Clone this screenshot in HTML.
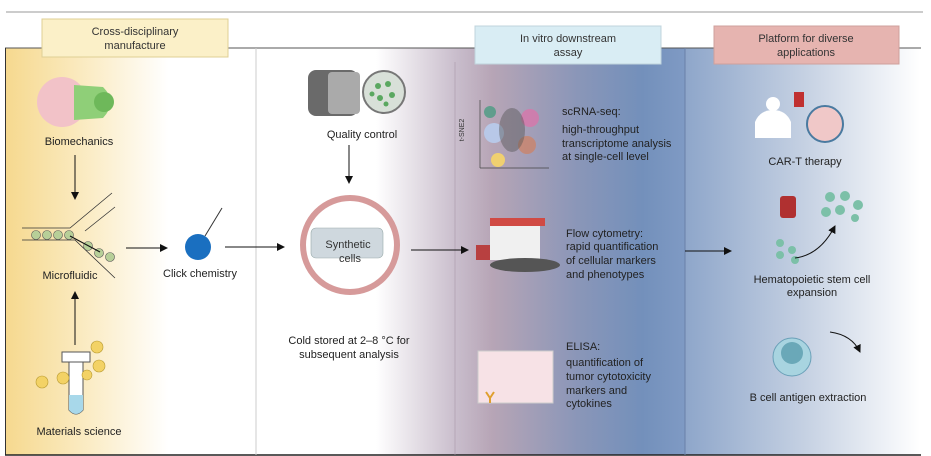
<!DOCTYPE html>
<html><head><meta charset="utf-8"><style>
html,body{margin:0;padding:0;background:#fff;}
svg{display:block;font-family:"Liberation Sans",sans-serif;}
</style></head><body>
<svg width="931" height="456" viewBox="0 0 931 456" xmlns="http://www.w3.org/2000/svg">
<defs>
<linearGradient id="g1" x1="0" x2="1" y1="0" y2="0">
<stop offset="0" stop-color="#f6d98f"/><stop offset="0.35" stop-color="#fbedc8"/><stop offset="0.65" stop-color="#fff"/><stop offset="1" stop-color="#fff"/></linearGradient>
<linearGradient id="g2" x1="0" x2="1" y1="0" y2="0">
<stop offset="0" stop-color="#fff"/><stop offset="0.28" stop-color="#fff"/><stop offset="0.47" stop-color="#c8bccb"/><stop offset="0.55" stop-color="#b7a5b6"/><stop offset="0.75" stop-color="#8a96b8"/><stop offset="0.9" stop-color="#7390bb"/><stop offset="1" stop-color="#7f9ac4"/></linearGradient>
<linearGradient id="g3" x1="0" x2="1" y1="0" y2="0">
<stop offset="0" stop-color="#8ea6ca"/><stop offset="0.5" stop-color="#c4d0e2"/><stop offset="1" stop-color="#fff"/></linearGradient>
<marker id="ar" markerWidth="8" markerHeight="8" refX="7" refY="4" orient="auto" markerUnits="userSpaceOnUse"><path d="M0,0 L8,4 L0,8 z" fill="#111"/></marker>
</defs>
<line x1="6" y1="12" x2="923" y2="12" stroke="#bbb" stroke-width="1.5"/>
<rect x="6" y="48" width="250" height="407" fill="url(#g1)"/>
<rect x="256" y="48" width="429" height="407" fill="url(#g2)"/>
<rect x="685" y="48" width="235" height="407" fill="url(#g3)"/>
<line x1="5" y1="48" x2="921" y2="48" stroke="#555" stroke-width="1"/>
<line x1="5.5" y1="48" x2="5.5" y2="455" stroke="#333" stroke-width="1"/>
<line x1="5" y1="455" x2="921" y2="455" stroke="#222" stroke-width="1.5"/>
<line x1="256" y1="48" x2="256" y2="455" stroke="#ccc" stroke-width="1"/>
<line x1="685" y1="48" x2="685" y2="455" stroke="#6a80a8" stroke-width="1"/>
<line x1="455" y1="62" x2="455" y2="455" stroke="#a898a8" stroke-width="0.6"/>
<!-- headers -->
<rect x="42" y="19" width="186" height="38" fill="#fbf0c8" stroke="#dfcf95"/>
<text x="135" y="35" font-size="11" text-anchor="middle" fill="#333">Cross-disciplinary</text>
<text x="135" y="49" font-size="11" text-anchor="middle" fill="#333">manufacture</text>
<rect x="475" y="26" width="186" height="38" fill="#d9edf4" stroke="#c0d4dc"/>
<text x="568" y="42" font-size="11" text-anchor="middle" fill="#333">In vitro downstream</text>
<text x="568" y="56" font-size="11" text-anchor="middle" fill="#333">assay</text>
<rect x="714" y="26" width="185" height="38" fill="#e6b4b0" stroke="#cfa09c"/>
<text x="806" y="42" font-size="11" text-anchor="middle" fill="#333">Platform for diverse</text>
<text x="806" y="56" font-size="11" text-anchor="middle" fill="#333">applications</text>
<!-- biomechanics -->
<circle cx="62" cy="102" r="25" fill="#f2c2c8"/>
<path d="M74,85 L103,87 Q118,102 103,118 L74,120 Z" fill="#8fcf78"/>
<circle cx="104" cy="102" r="10" fill="#6eb85a"/>
<text x="79" y="145" font-size="11" text-anchor="middle" fill="#222">Biomechanics</text>
<line x1="75" y1="155" x2="75" y2="199" stroke="#111" marker-end="url(#ar)"/>
<!-- microfluidic -->
<g stroke="#333" fill="none" stroke-width="0.8"><path d="M22,228 L70,228 L112,193"/><path d="M22,240 L75,240 L115,278"/><path d="M85,231 L115,207"/></g>
<g fill="#b7cf98" stroke="#555" stroke-width="0.6"><circle cx="36" cy="235" r="4.5"/><circle cx="47" cy="235" r="4.5"/><circle cx="58" cy="235" r="4.5"/><circle cx="69" cy="235" r="4.5"/><circle cx="88" cy="246" r="4.5"/><circle cx="99" cy="253" r="4.5"/><circle cx="110" cy="257" r="4.5"/></g>
<line x1="70" y1="236" x2="100" y2="252" stroke="#111"/>
<text x="70" y="279" font-size="11" text-anchor="middle" fill="#222">Microfluidic</text>
<line x1="75" y1="345" x2="75" y2="292" stroke="#111" marker-end="url(#ar)"/>
<!-- materials -->
<rect x="62" y="352" width="28" height="10" fill="#fff" stroke="#555"/>
<path d="M69,362 L69,410 Q76,418 83,410 L83,362 Z" fill="#fff" stroke="#555"/>
<path d="M69,395 L83,395 L83,410 Q76,418 69,410 Z" fill="#a8d8ea"/>
<g fill="#f3d265" stroke="#b89a30" stroke-width="0.6"><circle cx="97" cy="347" r="6"/><circle cx="99" cy="366" r="6"/><circle cx="63" cy="378" r="6"/><circle cx="42" cy="382" r="6"/><circle cx="87" cy="375" r="5"/></g>
<text x="79" y="435" font-size="11" text-anchor="middle" fill="#222">Materials science</text>
<!-- click chemistry -->
<line x1="126" y1="248" x2="167" y2="248" stroke="#111" marker-end="url(#ar)"/>
<circle cx="198" cy="247" r="13" fill="#1a6fc0"/>
<line x1="205" y1="236" x2="222" y2="208" stroke="#333"/>
<text x="200" y="277" font-size="11" text-anchor="middle" fill="#222">Click chemistry</text>
<line x1="225" y1="247" x2="284" y2="247" stroke="#111" marker-end="url(#ar)"/>
<!-- quality control -->
<rect x="308" y="70" width="50" height="46" rx="8" fill="#6a6a6a"/>
<rect x="328" y="72" width="32" height="42" rx="4" fill="#aaa"/>
<circle cx="384" cy="92" r="21" fill="#d8e0d8" stroke="#777" stroke-width="2"/>
<g fill="#5aa860"><circle cx="378" cy="86" r="3"/><circle cx="388" cy="84" r="3"/><circle cx="392" cy="95" r="3"/><circle cx="380" cy="98" r="3"/><circle cx="386" cy="104" r="2.5"/><circle cx="372" cy="94" r="2.5"/></g>
<text x="362" y="138" font-size="11" text-anchor="middle" fill="#222">Quality control</text>
<line x1="349" y1="145" x2="349" y2="183" stroke="#111" marker-end="url(#ar)"/>
<!-- synthetic cells -->
<circle cx="350" cy="245" r="47" fill="#fff" stroke="#d69a9a" stroke-width="6"/>
<rect x="311" y="228" width="72" height="30" rx="5" fill="#cfd8de" stroke="#9aa" stroke-width="0.6"/>
<text x="348" y="248" font-size="11" text-anchor="middle" fill="#333">Synthetic</text>
<text x="350" y="262" font-size="11" text-anchor="middle" fill="#333">cells</text>
<text x="349" y="344" font-size="11" text-anchor="middle" fill="#222">Cold stored at 2–8 °C for</text>
<text x="349" y="358" font-size="11" text-anchor="middle" fill="#222">subsequent analysis</text>
<line x1="411" y1="250" x2="468" y2="250" stroke="#111" marker-end="url(#ar)"/>
<!-- scRNA plot -->
<line x1="480" y1="100" x2="480" y2="168" stroke="#444" stroke-width="0.7"/>
<line x1="480" y1="168" x2="549" y2="168" stroke="#444" stroke-width="0.7"/>
<text x="464" y="130" font-size="7" fill="#333" transform="rotate(-90 464 130)" text-anchor="middle">t-SNE2</text>
<circle cx="494" cy="133" r="10" fill="#b8c8e8"/><circle cx="498" cy="160" r="7" fill="#f0d070"/>
<circle cx="530" cy="118" r="9" fill="#e070a8" opacity="0.7"/><circle cx="527" cy="145" r="9" fill="#d08060" opacity="0.7"/>
<ellipse cx="512" cy="130" rx="13" ry="22" fill="#555" opacity="0.45"/><circle cx="490" cy="112" r="6" fill="#3a9a7a" opacity="0.7"/>
<text x="562" y="115" font-size="11" fill="#222">scRNA-seq:</text>
<text x="562" y="133" font-size="11" fill="#222">high-throughput</text>
<text x="562" y="147" font-size="11" fill="#222">transcriptome analysis</text>
<text x="562" y="160" font-size="11" fill="#222">at single-cell level</text>
<!-- flow -->
<rect x="490" y="222" width="50" height="38" fill="#f0f0f0"/>
<rect x="490" y="218" width="55" height="8" fill="#d04a44"/>
<rect x="476" y="245" width="14" height="15" fill="#b84040"/>
<ellipse cx="525" cy="265" rx="35" ry="7" fill="#555"/>
<text x="566" y="237" font-size="11" fill="#222">Flow cytometry:</text>
<text x="566" y="250" font-size="11" fill="#222">rapid quantification</text>
<text x="566" y="264" font-size="11" fill="#222">of cellular markers</text>
<text x="566" y="278" font-size="11" fill="#222">and phenotypes</text>
<!-- elisa -->
<rect x="478" y="351" width="75" height="52" fill="#f7e2e6" stroke="#ccc"/>
<path d="M486,392 L490,398 L494,392 M490,398 L490,403" stroke="#e0a030" stroke-width="2" fill="none"/>
<text x="566" y="350" font-size="11" fill="#222">ELISA:</text>
<text x="566" y="366" font-size="11" fill="#222">quantification of</text>
<text x="566" y="380" font-size="11" fill="#222">tumor cytotoxicity</text>
<text x="566" y="394" font-size="11" fill="#222">markers and</text>
<text x="566" y="407" font-size="11" fill="#222">cytokines</text>
<line x1="685" y1="251" x2="731" y2="251" stroke="#111" marker-end="url(#ar)"/>
<!-- CAR-T -->
<path d="M755,138 L755,122 Q760,110 773,110 Q786,110 791,122 L791,138 Z" fill="#fff"/>
<circle cx="773" cy="104" r="7" fill="#fff"/>
<rect x="794" y="92" width="10" height="15" fill="#c03030"/>
<circle cx="825" cy="124" r="18" fill="#f0c8c8" stroke="#4a7aa0" stroke-width="2"/>
<text x="805" y="165" font-size="11" text-anchor="middle" fill="#222">CAR-T therapy</text>
<!-- HSC -->
<rect x="780" y="196" width="16" height="22" rx="3" fill="#b03030"/>
<g fill="#7cc0a8"><circle cx="830" cy="197" r="5"/><circle cx="845" cy="196" r="5"/><circle cx="858" cy="205" r="5"/><circle cx="840" cy="210" r="5"/><circle cx="826" cy="212" r="5"/><circle cx="855" cy="218" r="4"/><circle cx="780" cy="243" r="4"/><circle cx="792" cy="250" r="4"/><circle cx="780" cy="255" r="4"/><circle cx="795" cy="260" r="4"/></g>
<path d="M795,258 Q820,255 835,226" stroke="#111" fill="none" marker-end="url(#ar)"/>
<text x="812" y="283" font-size="11" text-anchor="middle" fill="#222">Hematopoietic stem cell</text>
<text x="812" y="296" font-size="11" text-anchor="middle" fill="#222">expansion</text>
<!-- B cell -->
<circle cx="792" cy="357" r="19" fill="#a8d4e0" stroke="#6aa0b8"/>
<circle cx="792" cy="353" r="11" fill="#6aa8b8"/>
<text x="808" y="401" font-size="11" text-anchor="middle" fill="#222">B cell antigen extraction</text>
<path d="M830,332 Q852,335 860,352" stroke="#111" fill="none" marker-end="url(#ar)"/>
</svg>
</body></html>
